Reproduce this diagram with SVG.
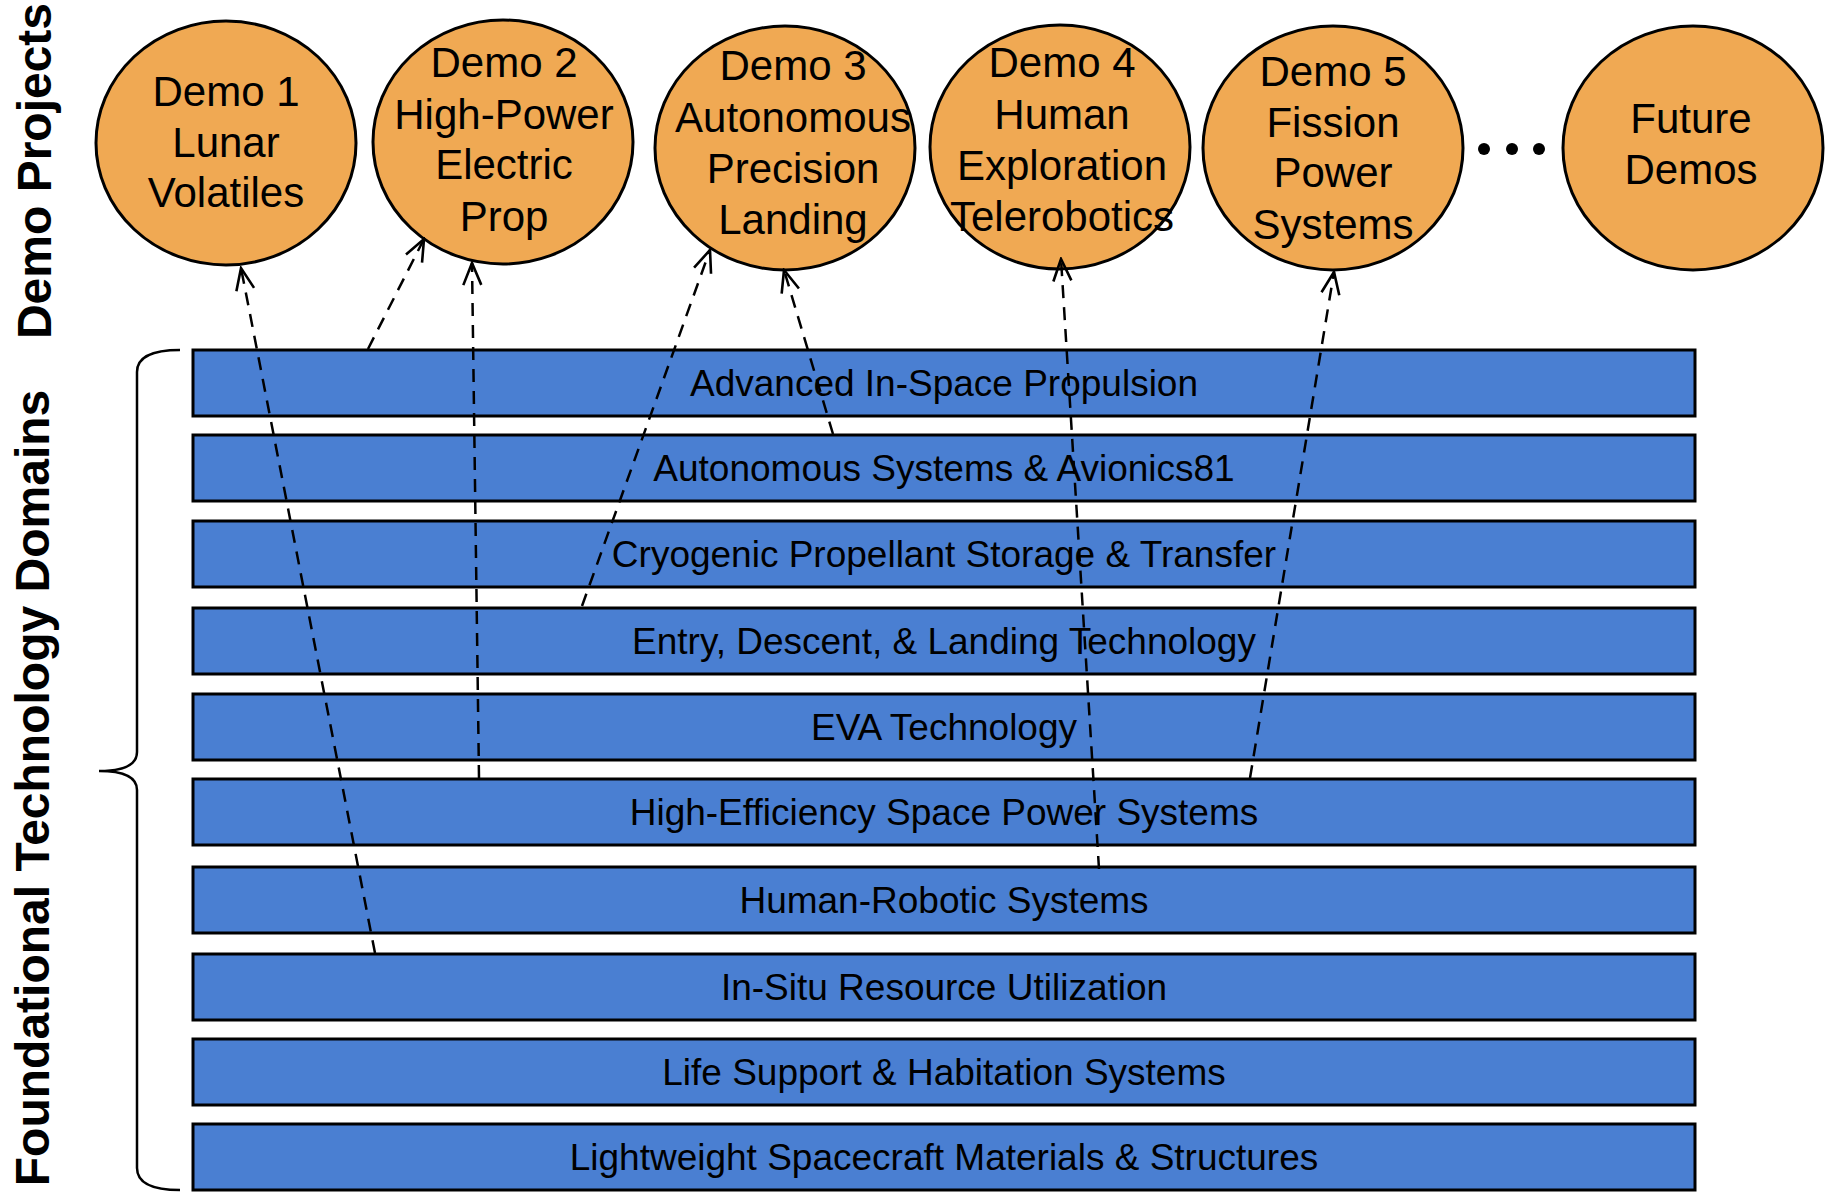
<svg xmlns="http://www.w3.org/2000/svg" width="1826" height="1192" viewBox="0 0 1826 1192">
<defs>
<style>
.demo ellipse{fill:#F0A953;stroke:#000;stroke-width:3}
.demo text{font-family:"Liberation Sans",Arial,sans-serif;font-size:42px;fill:#000;text-anchor:middle}
.bar rect{fill:#4A7FD2;stroke:#000;stroke-width:3}
.bar text{font-family:"Liberation Sans",Arial,sans-serif;font-size:37px;fill:#000;text-anchor:middle}
.side{font-family:"Liberation Sans",Arial,sans-serif;font-size:48px;font-weight:bold;fill:#000;text-anchor:middle}
.conn line{stroke:#000;stroke-width:2.5;stroke-dasharray:13 9;fill:none}
</style>
<marker id="arr" viewBox="0 0 26 22" refX="24" refY="11" markerWidth="26" markerHeight="22" markerUnits="userSpaceOnUse" orient="auto">
<path d="M2,2 L24,11 L2,20" fill="none" stroke="#000" stroke-width="2.6"/>
</marker>
</defs>
<rect width="1826" height="1192" fill="#fff"/>
<g id="labels">
<text class="side" transform="translate(51,171) rotate(-90)">Demo Projects</text>
<text class="side" transform="translate(49,788) rotate(-90)">Foundational Technology Domains</text>
<path id="brace" d="M180,350 Q137,350 137,372 L137,752 Q137,771 99,771 Q137,771 137,790 L137,1168 Q137,1190 180,1190" fill="none" stroke="#000" stroke-width="2.5"/>
</g>
<g id="bars">
<g id="bar1" class="bar"><rect x="193" y="350" width="1502" height="66"/><text x="944" y="396">Advanced In-Space Propulsion</text></g>
<g id="bar2" class="bar"><rect x="193" y="435" width="1502" height="66"/><text x="944" y="481">Autonomous Systems &amp; Avionics81</text></g>
<g id="bar3" class="bar"><rect x="193" y="521" width="1502" height="66"/><text x="944" y="567">Cryogenic Propellant Storage &amp; Transfer</text></g>
<g id="bar4" class="bar"><rect x="193" y="608" width="1502" height="66"/><text x="944" y="654">Entry, Descent, &amp; Landing Technology</text></g>
<g id="bar5" class="bar"><rect x="193" y="694" width="1502" height="66"/><text x="944" y="740">EVA Technology</text></g>
<g id="bar6" class="bar"><rect x="193" y="779" width="1502" height="66"/><text x="944" y="825">High-Efficiency Space Power Systems</text></g>
<g id="bar7" class="bar"><rect x="193" y="867" width="1502" height="66"/><text x="944" y="913">Human-Robotic Systems</text></g>
<g id="bar8" class="bar"><rect x="193" y="954" width="1502" height="66"/><text x="944" y="1000">In-Situ Resource Utilization</text></g>
<g id="bar9" class="bar"><rect x="193" y="1039" width="1502" height="66"/><text x="944" y="1085">Life Support &amp; Habitation Systems</text></g>
<g id="bar10" class="bar"><rect x="193" y="1124" width="1502" height="66"/><text x="944" y="1170">Lightweight Spacecraft Materials &amp; Structures</text></g>
</g>
<g id="demo1" class="demo"><ellipse cx="226" cy="143" rx="130" ry="122"/><text x="226" y="106">Demo 1</text><text x="226" y="157">Lunar</text><text x="226" y="207">Volatiles</text></g>
<g id="demo2" class="demo"><ellipse cx="503" cy="142" rx="130" ry="122"/><text x="504" y="77">Demo 2</text><text x="504" y="129">High-Power</text><text x="504" y="179">Electric</text><text x="504" y="231">Prop</text></g>
<g id="demo3" class="demo"><ellipse cx="785" cy="148" rx="130" ry="122"/><text x="793" y="80">Demo 3</text><text x="793" y="132">Autonomous</text><text x="793" y="183">Precision</text><text x="793" y="234">Landing</text></g>
<g id="demo4" class="demo"><ellipse cx="1060" cy="147" rx="130" ry="122"/><text x="1062" y="77">Demo 4</text><text x="1062" y="129">Human</text><text x="1062" y="180">Exploration</text><text x="1062" y="231">Telerobotics</text></g>
<g id="demo5" class="demo"><ellipse cx="1333" cy="148" rx="130" ry="122"/><text x="1333" y="86">Demo 5</text><text x="1333" y="137">Fission</text><text x="1333" y="187">Power</text><text x="1333" y="239">Systems</text></g>
<g id="future" class="demo"><ellipse cx="1693" cy="148" rx="130" ry="122"/><text x="1691" y="133">Future</text><text x="1691" y="184">Demos</text></g>
<g id="ellipsis"><circle cx="1484" cy="149" r="6"/><circle cx="1512" cy="149" r="6"/><circle cx="1539" cy="149" r="6"/></g>
<g id="connectors" class="conn">
<line x1="375" y1="953" x2="241" y2="268" marker-end="url(#arr)"/>
<line x1="368" y1="349" x2="424" y2="239" marker-end="url(#arr)"/>
<line x1="479" y1="778" x2="472" y2="263" marker-end="url(#arr)"/>
<line x1="582" y1="606" x2="710" y2="250" marker-end="url(#arr)"/>
<line x1="833" y1="434" x2="784" y2="270" marker-end="url(#arr)"/>
<line x1="1099" y1="869" x2="1061" y2="259" marker-end="url(#arr)"/>
<line x1="1250" y1="778" x2="1334" y2="272" marker-end="url(#arr)"/>
</g>
</svg>
